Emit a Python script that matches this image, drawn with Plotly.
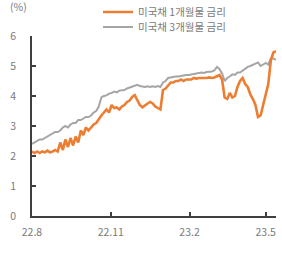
import pandas as pd
import plotly.graph_objects as go

dates = pd.date_range("2022-08-01", periods=96, freq="3D")

rate_1m = [2.15, 2.10, 2.15, 2.10, 2.15, 2.12, 2.18, 2.12, 2.15, 2.20,
           2.15, 2.45, 2.20, 2.55, 2.30, 2.60, 2.35, 2.65, 2.45, 2.85,
           2.70, 2.95, 2.85, 2.95, 3.05, 3.10, 3.25, 3.35, 3.45, 3.55,
           3.45, 3.70, 3.60, 3.62, 3.55, 3.65, 3.70, 3.80, 3.85, 3.97,
           4.03, 3.85, 3.70, 3.62, 3.70, 3.75, 3.80, 3.75, 3.65, 3.60,
           3.55, 4.20, 4.25, 4.35, 4.45, 4.45, 4.50, 4.50, 4.55, 4.50,
           4.55, 4.55, 4.55, 4.60, 4.58, 4.60, 4.60, 4.58, 4.60, 4.62,
           4.60, 4.62, 4.65, 4.70, 4.55, 3.95, 3.90, 4.10, 3.95, 4.00,
           4.30, 4.50, 4.60, 4.40, 4.30, 4.05, 3.90, 3.70, 3.30, 3.35,
           3.70, 4.10, 4.40, 5.20, 5.45, 5.50]

rate_3m = [2.40, 2.45, 2.50, 2.55, 2.55, 2.60, 2.65, 2.70, 2.75, 2.80,
           2.80, 2.85, 2.95, 3.00, 2.95, 3.05, 3.10, 3.10, 3.20, 3.20,
           3.25, 3.30, 3.30, 3.35, 3.45, 3.50, 3.65, 3.95, 4.00, 4.02,
           4.08, 4.10, 4.15, 4.12, 4.18, 4.20, 4.20, 4.25, 4.28, 4.30,
           4.35, 4.37, 4.33, 4.32, 4.30, 4.32, 4.30, 4.32, 4.30, 4.33,
           4.30, 4.45, 4.50, 4.60, 4.62, 4.63, 4.65, 4.65, 4.67, 4.70,
           4.70, 4.70, 4.72, 4.75, 4.75, 4.77, 4.78, 4.77, 4.80, 4.80,
           4.82, 4.85, 4.97, 4.90, 4.75, 4.50, 4.60, 4.65, 4.72, 4.70,
           4.78, 4.78, 4.85, 4.90, 4.97, 5.00, 5.05, 5.08, 5.12, 5.00,
           5.05, 5.10, 5.05, 5.25, 5.25, 5.20]

tick_vals = ["2022-08-01", "2022-11-01", "2023-02-01", "2023-05-01"]
tick_text = ["22.8", "22.11", "23.2", "23.5"]
y_ticks = [0, 1, 2, 3, 4, 5, 6]

font_family = "Noto Sans CJK KR"
txt_col = "#7a7a7a"
axis_col = "#404040"

fig = go.Figure()
fig.add_trace(go.Scatter(x=dates, y=rate_3m, mode="lines", name="미국채 3개월물 금리",
                         line=dict(color="#A5A5A5", width=2), legend="legend2",
                         showlegend=True))
fig.add_trace(go.Scatter(x=dates, y=rate_1m, mode="lines", name="미국채 1개월물 금리",
                         line=dict(color="#ED7D31", width=2.6), legend="legend",
                         showlegend=True))

leg_common = dict(font=dict(family=font_family, size=10.5, color=txt_col),
                  bgcolor="rgba(0,0,0,0)", xref="container", yref="container",
                  xanchor="left", yanchor="middle", borderwidth=0, visible=True)
fig.update_layout(
    width=282, height=254,
    margin=dict(l=32, r=6, t=36, b=38, autoexpand=False),
    plot_bgcolor="white", paper_bgcolor="white",
    showlegend=True,
    font=dict(family=font_family, size=10.5, color=txt_col),
    legend=dict(x=98 / 282, y=1 - 12 / 254, **leg_common),
    legend2=dict(x=98 / 282, y=1 - 27 / 254, **leg_common),
    xaxis=dict(type="date", range=["2022-08-01", "2023-05-13"],
               tickvals=tick_vals, ticktext=tick_text,
               showgrid=False, zeroline=False,
               showline=True, linecolor=axis_col, linewidth=1.5,
               ticks="inside", ticklen=4, tickwidth=1.5, tickcolor=axis_col,
               tickfont=dict(size=10.5, color=txt_col), ticklabelstandoff=6),
    yaxis=dict(range=[0, 6], tickvals=y_ticks,
               showgrid=False, zeroline=False,
               showline=True, linecolor=axis_col, linewidth=1.5,
               ticks="inside", ticklen=4, tickwidth=1.5, tickcolor=axis_col,
               tickfont=dict(size=10.5, color=txt_col), ticklabelstandoff=12),
    annotations=[dict(text="(%)", xref="paper", yref="paper", x=0, y=1,
                      xanchor="center", yanchor="bottom", xshift=-14, yshift=20,
                      showarrow=False, font=dict(size=10.5, color=txt_col))],
)

fig.write_html("out.html")
